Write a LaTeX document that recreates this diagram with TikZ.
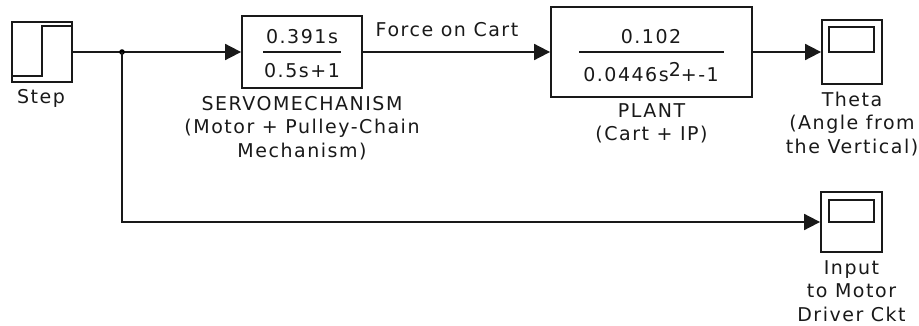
\documentclass[tikz,border=0pt]{standalone}
\usepackage{fontspec}
\setmainfont{DejaVu Sans}[LetterSpace=8]
\usetikzlibrary{arrows.meta}
\begin{document}
\begin{tikzpicture}[x=1pt,y=-1pt,
  line width=1.8pt, draw=black!90,
  every node/.style={font=\fontsize{19}{23.5}\selectfont, text=black!90},
  blk/.style={draw, rectangle, inner sep=0pt},
  lbl/.style={align=center, inner sep=0pt},
  sig/.style={-{Triangle[length=16pt,width=16pt]}}]
\useasboundingbox (0,0) rectangle (919,326);
% blocks
\node[blk, minimum width=60pt, minimum height=60pt] (step) at (42,52) {};
\node[blk, minimum width=120pt, minimum height=72pt] (servo) at (302,52) {};
\node[blk, minimum width=201pt, minimum height=90pt] (plant) at (651.5,52) {};
\node[blk, minimum width=60pt, minimum height=64pt] (theta) at (852,52) {};
\node[blk, minimum width=61pt, minimum height=60pt] (scope) at (851.5,222) {};
% step icon
\draw (12,76) -- (42,76) -- (42,26) -- (72,26);
% scope screens
\node[blk, minimum width=45pt, minimum height=25pt] (thetascr) at (851.5,39.5) {};
\node[blk, minimum width=45pt, minimum height=22pt] (scopescr) at (851.5,211) {};
% transfer functions
\node[lbl] (servonum) at (302,37) {0.391s};
\node[lbl] (servoden) at (302,71) {0.5s+1};
\draw (263,52) -- (341,52);
\node[lbl] (plantnum) at (651,37) {0.102};
\node[lbl] (plantden) at (651,72) {0.0446s\raisebox{5pt}{2}+-1};
\draw (579,52) -- (724,52);
% labels
\node[lbl] (steplbl) at (41,98) {Step};
\node[lbl] (servolbl) at (302,128) {SERVOMECHANISM\\(Motor + Pulley-Chain\\Mechanism)};
\node[lbl] (plantlbl) at (651.5,123.5) {PLANT\\(Cart + IP)};
\node[lbl] (thetalbl) at (852,124) {Theta\\(Angle from\\the Vertical)};
\node[lbl] (scopelbl) at (851.5,291) {Input\\to Motor\\Driver Ckt};
\node[lbl] (force) at (447,30) {Force on Cart};
% connectors
\coordinate (br) at (122,52);
\coordinate (brdown) at (122,222);
\draw (step.east) -- (br);
\draw[sig] (br) -- (servo.west);
\fill (br) circle (2.8pt);
\draw[sig] (br) -- (brdown) -- (scope.west);
\draw[sig] (servo.east) -- (plant.west);
\draw[sig] (plant.east) -- (theta.west);
\end{tikzpicture}
\end{document}
